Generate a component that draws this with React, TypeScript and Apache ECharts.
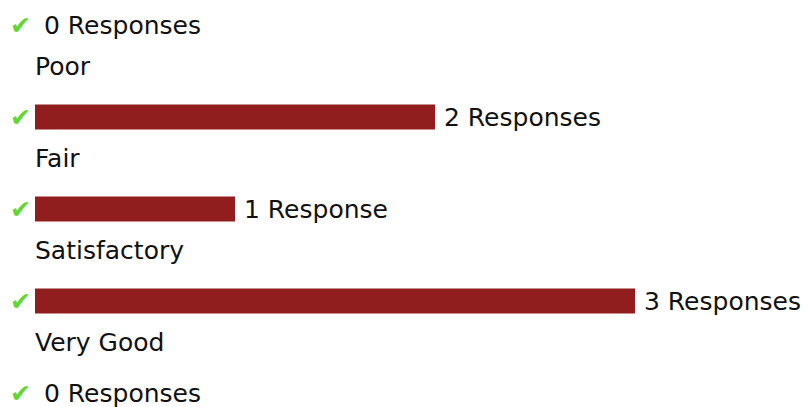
import React, { useEffect, useRef } from "react";
import * as echarts from "echarts";

const categories = ["", "Poor", "Fair", "Satisfactory", "Very Good"];
const responses = [0, 2, 1, 3, 0];

export default function App() {
  const ref = useRef<HTMLDivElement>(null);
  useEffect(() => {
    if (!ref.current) return;
    const chart = echarts.init(ref.current, null, { renderer: "svg" });
    const font = "DejaVu Sans, Verdana, sans-serif";
    chart.setOption({
      animation: false,
      grid: { left: 35, top: 25, width: 600, height: 368 },
      xAxis: { type: "value", min: 0, max: 3, show: false },
      yAxis: {
        type: "category",
        inverse: true,
        boundaryGap: false,
        data: categories,
        axisLine: { show: false },
        axisTick: { show: false },
        splitLine: { show: false },
        axisLabel: {
          formatter: () => "✔",
          color: "#63d62f",
          fontSize: 25,
          margin: 4,
          fontFamily: font,
        },
      },
      series: [
        {
          type: "bar",
          data: responses,
          barWidth: 25,
          itemStyle: { color: "#911e1e" },
          label: {
            show: true,
            position: "right",
            distance: 9,
            color: "#111",
            fontSize: 25,
            fontFamily: font,
            formatter: (p: any) =>
              p.value + (p.value === 1 ? " Response" : " Responses"),
          },
        },
        {
          type: "bar",
          data: responses.map(() => 0),
          barWidth: 25,
          barGap: "-100%",
          itemStyle: { color: "transparent" },
          label: {
            show: true,
            position: "right",
            distance: 0,
            offset: [0, -51],
            color: "#111",
            fontSize: 25,
            fontFamily: font,
            formatter: (p: any) => categories[p.dataIndex],
          },
        },
      ],
    });
    return () => chart.dispose();
  }, []);
  return (
    <div
      ref={ref}
      style={{ position: "absolute", left: 0, top: 0, width: 809, height: 407 }}
    />
  );
}
